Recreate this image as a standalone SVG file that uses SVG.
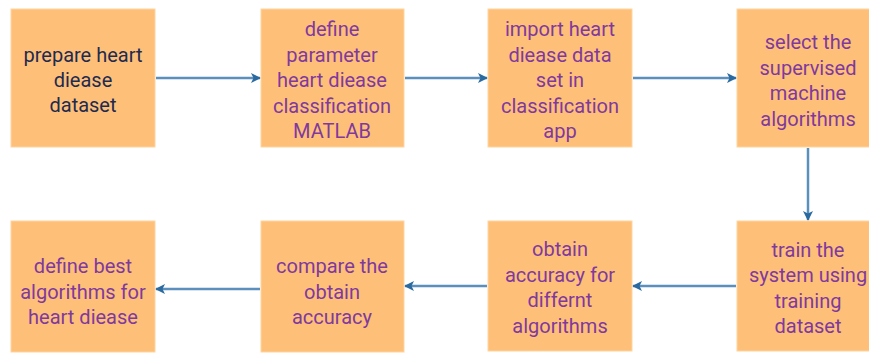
<svg xmlns="http://www.w3.org/2000/svg" width="869" height="356" viewBox="0 0 869 356">
<defs>
<style>
.box{fill:#FEC078;stroke:#FFD4A0;stroke-width:1}
.t{font-family:Roboto,"Liberation Sans",sans-serif;font-size:20px;fill:#80399E;text-anchor:middle}
.dk{fill:#1F2A50}
.c{stroke:#5B90BE;stroke-width:2.5;fill:none}
</style>
<marker id="ah" viewBox="0 0 10 10" refX="9" refY="5" markerWidth="10" markerHeight="10" markerUnits="userSpaceOnUse" orient="auto">
<path d="M0,0 L10,5 L0,10 L2.5,5 Z" fill="#2A6A9E"/>
</marker>
</defs>
<rect width="869" height="356" fill="#FFFFFF"/>
<g id="connectors">
<line class="c" x1="156" y1="78" x2="260" y2="78" marker-end="url(#ah)"/>
<line class="c" x1="405" y1="78" x2="487" y2="78" marker-end="url(#ah)"/>
<line class="c" x1="633" y1="78" x2="736" y2="78" marker-end="url(#ah)"/>
<line class="c" x1="808" y1="148" x2="808" y2="220" marker-end="url(#ah)"/>
<line class="c" x1="736" y1="286" x2="633" y2="286" marker-end="url(#ah)"/>
<line class="c" x1="487" y1="286" x2="405" y2="286" marker-end="url(#ah)"/>
<line class="c" x1="260" y1="289" x2="156" y2="289" marker-end="url(#ah)"/>
</g>
<g id="n1"><rect class="box" x="11" y="9" width="144" height="138"/>
<text class="t dk" x="83" y="62">prepare heart</text><text class="t dk" x="83" y="87">diease</text><text class="t dk" x="83" y="112">dataset</text></g>
<g id="n2"><rect class="box" x="261" y="9" width="143" height="138"/>
<text class="t" x="332" y="36">define</text><text class="t" x="332" y="61.5">parameter</text><text class="t" x="332" y="87">heart diease</text><text class="t" x="332" y="112.5">classification</text><text class="t" x="332" y="138">MATLAB</text></g>
<g id="n3"><rect class="box" x="488" y="9" width="144" height="138"/>
<text class="t" x="560" y="36">import heart</text><text class="t" x="560" y="61.5">diease data</text><text class="t" x="560" y="87">set in</text><text class="t" x="560" y="112.5">classification</text><text class="t" x="560" y="138">app</text></g>
<g id="n4"><rect class="box" x="737" y="9" width="144" height="138"/>
<text class="t" x="808" y="49">select the</text><text class="t" x="808" y="74.5">supervised</text><text class="t" x="808" y="100">machine</text><text class="t" x="808" y="125.5">algorithms</text></g>
<g id="n5"><rect class="box" x="737" y="221" width="144" height="130"/>
<text class="t" x="808" y="257">train the</text><text class="t" x="808" y="282">system using</text><text class="t" x="808" y="307.5">training</text><text class="t" x="808" y="333">dataset</text></g>
<g id="n6"><rect class="box" x="488" y="221" width="144" height="130"/>
<text class="t" x="560" y="256">obtain</text><text class="t" x="560" y="281.5">accuracy for</text><text class="t" x="560" y="307">differnt</text><text class="t" x="560" y="332.5">algorithms</text></g>
<g id="n7"><rect class="box" x="261" y="221" width="143" height="131"/>
<text class="t" x="332" y="273">compare the</text><text class="t" x="332" y="298.5">obtain</text><text class="t" x="332" y="324">accuracy</text></g>
<g id="n8"><rect class="box" x="11" y="221" width="144" height="131"/>
<text class="t" x="83" y="273">define best</text><text class="t" x="83" y="298.5">algorithms for</text><text class="t" x="83" y="324">heart diease</text></g>
</svg>
